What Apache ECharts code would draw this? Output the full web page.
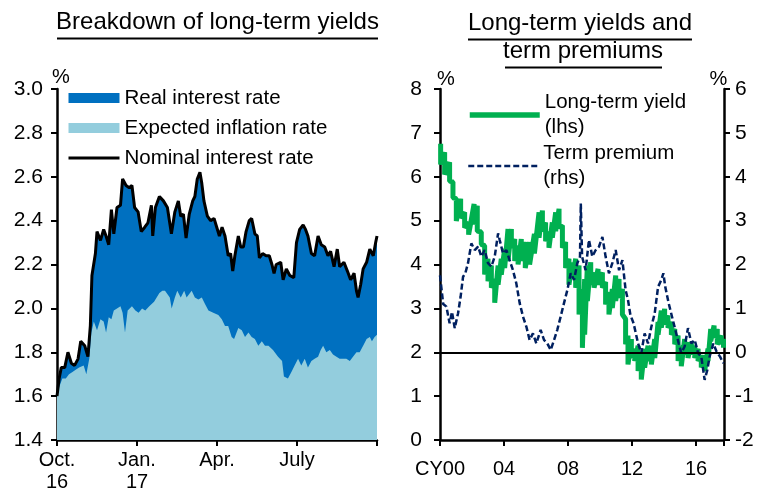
<!DOCTYPE html>
<html>
<head>
<meta charset="utf-8">
<script src="https://cdn.jsdelivr.net/npm/echarts@6/dist/echarts.min.js"></script>
<style>
html,body{margin:0;padding:0;background:#fff;}
#chart{width:761px;height:493px;}
</style>
</head>
<body>
<div id="chart"></div>
<script>
// ---- left panel: x = months since Oct. 2016 ----
var monthLabels = {0: 'Oct.\n16', 3: 'Jan.\n17', 6: 'Apr.', 9: 'July'};
var nominalRate = [
	[0,1.60],[0.08,1.68],[0.16,1.73],[0.29,1.73],[0.41,1.80],[0.54,1.75],[0.66,1.74],[0.79,1.77],
	[0.89,1.85],[1.04,1.83],[1.16,1.78],[1.25,1.92],[1.31,2.15],[1.44,2.25],[1.50,2.35],[1.63,2.31],
	[1.75,2.36],[1.84,2.33],[1.94,2.29],[2.04,2.45],[2.13,2.34],[2.25,2.46],[2.38,2.47],[2.46,2.59],
	[2.59,2.56],[2.71,2.55],[2.81,2.56],[2.91,2.46],[3.04,2.44],[3.16,2.35],[3.29,2.37],[3.41,2.39],
	[3.54,2.47],[3.59,2.33],[3.69,2.46],[3.84,2.51],[3.99,2.49],[4.14,2.46],[4.29,2.34],[4.42,2.44],
	[4.55,2.49],[4.64,2.42],[4.74,2.43],[4.84,2.32],[4.96,2.43],[5.09,2.49],[5.17,2.51],[5.26,2.59],
	[5.36,2.62],[5.43,2.57],[5.51,2.49],[5.64,2.42],[5.76,2.40],[5.89,2.41],[5.99,2.37],[6.09,2.33],
	[6.19,2.37],[6.30,2.33],[6.42,2.24],[6.51,2.25],[6.59,2.17],[6.67,2.24],[6.80,2.33],[6.89,2.28],
	[6.99,2.28],[7.09,2.35],[7.21,2.40],[7.30,2.41],[7.42,2.34],[7.51,2.33],[7.59,2.23],[7.71,2.25],
	[7.84,2.24],[7.96,2.24],[8.06,2.20],[8.14,2.16],[8.22,2.20],[8.39,2.21],[8.48,2.13],[8.60,2.18],
	[8.73,2.15],[8.88,2.14],[8.98,2.30],[9.10,2.36],[9.23,2.38],[9.32,2.36],[9.41,2.33],[9.54,2.25],
	[9.66,2.24],[9.79,2.33],[9.91,2.29],[10.04,2.28],[10.16,2.24],[10.26,2.26],[10.39,2.19],[10.51,2.27],
	[10.60,2.19],[10.76,2.21],[10.89,2.17],[11.01,2.13],[11.14,2.16],[11.23,2.08],[11.29,2.05],[11.39,2.11],
	[11.48,2.18],[11.61,2.21],[11.73,2.27],[11.86,2.24],[11.95,2.30],[12,2.33]
];
var inflationRate = [
	[0,1.60],[0.08,1.64],[0.2,1.68],[0.33,1.68],[0.45,1.70],[0.58,1.71],[0.7,1.72],[0.83,1.73],
	[1.0,1.74],[1.1,1.70],[1.21,1.77],[1.29,1.89],[1.38,1.94],[1.5,1.90],[1.63,1.95],[1.75,1.94],
	[1.84,1.89],[1.94,1.96],[2.04,1.95],[2.13,1.99],[2.25,2.00],[2.38,2.01],[2.46,1.98],[2.55,1.89],
	[2.65,1.99],[2.81,2.01],[2.94,1.99],[3.06,1.98],[3.19,2.00],[3.31,1.99],[3.46,2.01],[3.64,2.03],
	[3.84,2.07],[3.95,2.08],[4.05,2.08],[4.23,2.05],[4.30,2.00],[4.42,2.05],[4.51,2.08],[4.64,2.05],
	[4.77,2.08],[4.86,2.05],[5.05,2.08],[5.17,2.05],[5.30,2.04],[5.43,2.05],[5.55,2.02],[5.68,1.99],
	[5.86,1.98],[6.05,1.97],[6.18,1.95],[6.30,1.92],[6.42,1.92],[6.55,1.87],[6.64,1.86],[6.80,1.91],
	[6.93,1.90],[7.05,1.87],[7.18,1.89],[7.30,1.87],[7.42,1.86],[7.55,1.83],[7.68,1.85],[7.80,1.83],
	[7.93,1.83],[8.10,1.81],[8.29,1.78],[8.44,1.76],[8.51,1.69],[8.66,1.68],[8.79,1.71],[8.91,1.74],
	[9.04,1.77],[9.16,1.74],[9.29,1.77],[9.41,1.73],[9.54,1.76],[9.66,1.77],[9.79,1.78],[9.89,1.81],
	[9.98,1.83],[10.10,1.80],[10.23,1.81],[10.35,1.79],[10.48,1.78],[10.60,1.77],[10.73,1.77],[10.85,1.77],
	[10.98,1.76],[11.10,1.78],[11.23,1.80],[11.35,1.80],[11.48,1.83],[11.61,1.86],[11.73,1.87],[11.81,1.85],
	[11.91,1.87],[12,1.88]
];

// ---- right panel: x = calendar year ----
// long-term yield is a noisy daily series: read as upper / lower edge of its band
var yieldYears = [2000.04,2000.29,2000.6,2000.81,2001.02,2001.29,2001.54,2001.79,2002.13,2002.33,2002.58,2002.79,
	2003.0,2003.21,2003.42,2003.63,2003.83,2004.04,2004.25,2004.46,2004.67,2004.88,2005.08,2005.33,2005.6,2005.9,
	2006.19,2006.4,2006.6,2006.81,2007.02,2007.23,2007.44,2007.65,2007.85,2008.06,2008.27,2008.48,2008.69,2008.9,
	2009.04,2009.21,2009.42,2009.63,2009.88,2010.15,2010.35,2010.56,2010.77,2010.98,2011.19,2011.4,2011.6,2011.75,
	2011.96,2012.17,2012.38,2012.58,2012.79,2013.0,2013.21,2013.42,2013.63,2013.83,2014.04,2014.25,2014.46,2014.67,
	2014.88,2015.08,2015.29,2015.5,2015.71,2015.92,2016.13,2016.33,2016.54,2016.75,2016.92,2017.13,2017.33,2017.58,2017.72];
var yieldHigh = [6.75,6.56,6.33,5.88,5.50,5.50,5.19,4.96,5.38,5.34,4.74,4.43,
	4.13,3.98,3.67,3.98,4.13,4.36,4.81,4.81,4.58,4.43,4.58,4.51,4.51,4.70,
	5.19,5.23,4.96,4.74,4.96,5.19,5.27,4.89,4.51,4.13,4.05,4.13,3.98,3.44,
	3.67,3.98,4.05,3.82,3.90,3.82,3.60,3.37,3.44,3.75,3.67,3.44,2.76,2.38,
	2.30,2.08,2.15,2.00,2.08,2.15,2.15,2.30,2.69,2.95,2.99,2.84,2.69,2.53,
	2.38,2.15,2.30,2.23,2.23,2.15,2.08,1.93,1.93,2.08,2.53,2.61,2.53,2.38,2.30];
var yieldLow = [6.28,6.05,5.90,5.52,4.99,5.06,4.84,4.68,4.91,4.76,4.46,3.77,
	3.62,3.47,3.13,3.54,3.77,3.92,4.08,4.38,4.08,4.00,4.08,3.92,4.00,4.25,
	4.61,4.76,4.53,4.38,4.61,4.76,4.84,4.38,3.92,3.54,3.70,3.47,2.86,2.10,
	2.40,3.17,3.54,3.47,3.54,3.47,3.09,2.86,3.01,3.17,3.24,2.86,2.18,1.72,
	1.87,1.80,1.57,1.38,1.65,1.80,1.72,1.87,2.40,2.56,2.63,2.56,2.40,2.18,
	1.80,1.68,1.95,1.87,1.95,1.87,1.80,1.65,1.57,1.80,2.25,2.33,2.18,2.18,2.10];
var termPremium = [
	[2000.0,1.75],[2000.2,1.10],[2000.4,1.04],[2000.6,0.66],[2000.75,0.92],[2000.92,0.55],[2001.13,0.89],[2001.29,1.27],
	[2001.44,1.72],[2001.58,1.80],[2001.75,2.03],[2001.96,2.48],[2002.17,2.33],[2002.38,2.41],[2002.58,2.18],[2002.79,2.33],
	[2003.0,2.03],[2003.21,1.95],[2003.42,2.18],[2003.63,2.71],[2003.73,2.56],[2003.94,2.25],[2004.15,2.33],[2004.35,2.10],
	[2004.56,1.87],[2004.77,1.57],[2004.98,1.12],[2005.19,0.81],[2005.4,0.58],[2005.6,0.28],[2005.81,0.43],[2006.02,0.20],
	[2006.29,0.51],[2006.5,0.28],[2006.71,0.20],[2006.92,0.05],[2007.13,0.28],[2007.33,0.51],[2007.54,0.81],[2007.75,1.12],
	[2007.96,1.42],[2008.17,1.80],[2008.38,1.65],[2008.58,2.03],[2008.75,2.18],[2008.8,3.39],[2008.88,2.18],[2009.1,1.87],
	[2009.31,2.56],[2009.52,2.18],[2009.73,2.33],[2009.94,2.41],[2010.15,2.63],[2010.35,2.18],[2010.56,1.80],[2010.77,2.03],
	[2010.98,2.33],[2011.19,1.87],[2011.4,2.10],[2011.6,1.42],[2011.75,1.19],[2011.9,0.85],[2012.1,0.66],[2012.38,0.20],
	[2012.58,-0.02],[2012.79,0.43],[2013.0,0.20],[2013.21,0.58],[2013.42,0.89],[2013.63,1.49],[2013.83,1.65],[2013.96,1.80],
	[2014.08,1.49],[2014.29,1.12],[2014.5,0.81],[2014.71,0.51],[2014.92,0.20],[2015.08,-0.02],[2015.29,0.13],[2015.5,0.55],
	[2015.71,0.20],[2015.92,0.28],[2016.13,-0.02],[2016.33,-0.10],[2016.54,-0.63],[2016.71,-0.40],[2016.85,-0.10],[2017.08,0.20],
	[2017.29,0.01],[2017.5,-0.10],[2017.71,-0.25]
];

var FONT = 'Liberation Sans';
var black = '#000';

drawCharts();
function drawCharts(){
	var myChart = echarts.init(document.getElementById('chart'));

	// zig-zag between the two edges so the thick line fills the band
	var yieldBand = [];
	for (var i = 0; i < yieldYears.length; i++) {
		yieldBand.push([yieldYears[i], yieldHigh[i]]);
		yieldBand.push([yieldYears[i], yieldLow[i]]);
	}

	var axisLine = {show: true, lineStyle: {color: black, width: 2.5}};
	var axisTick = {show: true, inside: false, length: 6, lineStyle: {color: black, width: 2}};
	var labelStyle = {color: black, fontSize: 20, fontFamily: FONT};

	var option = {
		animation: false,
		backgroundColor: '#fff',
		textStyle: {fontFamily: FONT},
		grid: [
			{left: 57, top: 89, width: 320, height: 351},
			{left: 440, top: 89, width: 284, height: 351}
		],
		xAxis: [{
			gridIndex: 0,
			type: 'value',
			min: 0,
			max: 12,
			interval: 3,
			axisLine: axisLine,
			axisTick: axisTick,
			splitLine: {show: false},
			axisLabel: Object.assign({}, labelStyle, {
				margin: 9,
				lineHeight: 22,
				formatter: function(v){ return monthLabels[v] || ''; }
			})
		},{
			gridIndex: 1,
			type: 'value',
			min: 2000,
			max: 2017.75,
			interval: 4,
			axisLine: axisLine,
			axisTick: axisTick,
			splitLine: {show: false},
			axisLabel: Object.assign({}, labelStyle, {
				margin: 19,
				formatter: function(v){
					if (v === 2000) return 'CY00';
					if (v % 4 === 0 && v < 2017) return String(v).slice(2);
					return '';
				}
			})
		}],
		yAxis: [{
			gridIndex: 0,
			type: 'value',
			min: 1.4,
			max: 3.0,
			interval: 0.2,
			axisLine: axisLine,
			axisTick: axisTick,
			splitLine: {show: false},
			axisLabel: Object.assign({}, labelStyle, {
				margin: 14,
				fontSize: 21,
				formatter: function(v){ return v.toFixed(1); }
			})
		},{
			gridIndex: 1,
			type: 'value',
			min: 0,
			max: 8,
			interval: 1,
			axisLine: axisLine,
			axisTick: axisTick,
			splitLine: {show: false},
			axisLabel: Object.assign({}, labelStyle, {margin: 18, fontSize: 21})
		},{
			gridIndex: 1,
			type: 'value',
			position: 'right',
			min: -2,
			max: 6,
			interval: 1,
			axisLine: axisLine,
			axisTick: axisTick,
			splitLine: {show: false},
			axisLabel: Object.assign({}, labelStyle, {margin: 11, fontSize: 21})
		}],
		legend: [{
			orient: 'vertical',
			left: 67,
			top: 83,
			padding: 0,
			itemGap: 0,
			itemWidth: 51,
			itemHeight: 10,
			selectedMode: false,
			textStyle: {color: black, fontSize: 20.5, lineHeight: 30, fontFamily: FONT},
			data: [
				{name: 'Real interest rate', icon: 'rect'},
				{name: 'Expected inflation rate', icon: 'rect'},
				{name: 'Nominal interest rate', itemStyle: {opacity: 0}, lineStyle: {width: 3}}
			]
		},{
			left: 467,
			top: 77.5,
			padding: 0,
			itemWidth: 70,
			itemHeight: 10,
			selectedMode: false,
			formatter: '{name}\n(lhs)',
			textStyle: {color: black, fontSize: 20.5, lineHeight: 25, padding: [25, 0, 0, 0], fontFamily: FONT},
			data: [{name: 'Long-term yield', itemStyle: {opacity: 0}, lineStyle: {width: 5.5}}]
		},{
			left: 467,
			top: 128.5,
			padding: 0,
			itemWidth: 70,
			itemHeight: 10,
			selectedMode: false,
			formatter: '{name}\n(rhs)',
			textStyle: {color: black, fontSize: 20.5, lineHeight: 25, padding: [25, 0, 0, 0], fontFamily: FONT},
			data: [{name: 'Term premium', itemStyle: {opacity: 0}, lineStyle: {width: 2.5}}]
		}],
		graphic: [
			{type: 'text', x: 217.5, y: 22, style: {text: 'Breakdown of long-term yields', font: '24px ' + FONT, fill: black, align: 'center', verticalAlign: 'middle'}},
			{type: 'line', shape: {x1: 57, y1: 38.5, x2: 378, y2: 38.5}, style: {stroke: black, lineWidth: 2}},
			{type: 'text', x: 580, y: 23, style: {text: 'Long-term yields and', font: '24px ' + FONT, fill: black, align: 'center', verticalAlign: 'middle'}},
			{type: 'line', shape: {x1: 468, y1: 39.5, x2: 692, y2: 39.5}, style: {stroke: black, lineWidth: 2}},
			{type: 'text', x: 583, y: 51, style: {text: 'term premiums', font: '24px ' + FONT, fill: black, align: 'center', verticalAlign: 'middle'}},
			{type: 'line', shape: {x1: 505, y1: 67.5, x2: 662, y2: 67.5}, style: {stroke: black, lineWidth: 2}},
			{type: 'text', x: 61, y: 77.5, style: {text: '%', font: '20px ' + FONT, fill: black, align: 'center', verticalAlign: 'middle'}},
			{type: 'text', x: 446, y: 79.5, style: {text: '%', font: '20px ' + FONT, fill: black, align: 'center', verticalAlign: 'middle'}},
			{type: 'text', x: 718.5, y: 79.5, style: {text: '%', font: '20px ' + FONT, fill: black, align: 'center', verticalAlign: 'middle'}}
		],
		series: [
			{
				// dark band = nominal minus expected inflation, shown by filling up to nominal
				name: 'Real interest rate',
				type: 'line',
				xAxisIndex: 0,
				yAxisIndex: 0,
				symbol: 'none',
				lineStyle: {width: 0},
				itemStyle: {color: '#0070c0'},
				areaStyle: {color: '#0070c0', opacity: 1, origin: 'start'},
				data: nominalRate
			},
			{
				name: 'Expected inflation rate',
				type: 'line',
				xAxisIndex: 0,
				yAxisIndex: 0,
				symbol: 'none',
				lineStyle: {width: 0},
				itemStyle: {color: '#93cddd'},
				areaStyle: {color: '#93cddd', opacity: 1, origin: 'start'},
				data: inflationRate
			},
			{
				name: 'Nominal interest rate',
				type: 'line',
				xAxisIndex: 0,
				yAxisIndex: 0,
				symbol: 'none',
				itemStyle: {color: black},
				lineStyle: {color: black, width: 3},
				data: nominalRate
			},
			{
				name: 'Long-term yield',
				type: 'line',
				xAxisIndex: 1,
				yAxisIndex: 1,
				symbol: 'none',
				itemStyle: {color: '#00b050'},
				lineStyle: {color: '#00b050', width: 5},
				data: yieldBand
			},
			{
				name: 'Term premium',
				type: 'line',
				xAxisIndex: 1,
				yAxisIndex: 2,
				symbol: 'none',
				itemStyle: {color: '#002060'},
				lineStyle: {color: '#002060', width: 2.5, type: [6, 3]},
				data: termPremium,
				markLine: {
					silent: true,
					symbol: 'none',
					label: {show: false},
					lineStyle: {color: black, width: 2, type: 'solid'},
					data: [{yAxis: 0}]
				}
			}
		]
	};
	myChart.setOption(option);
}
</script>
</body>
</html>
